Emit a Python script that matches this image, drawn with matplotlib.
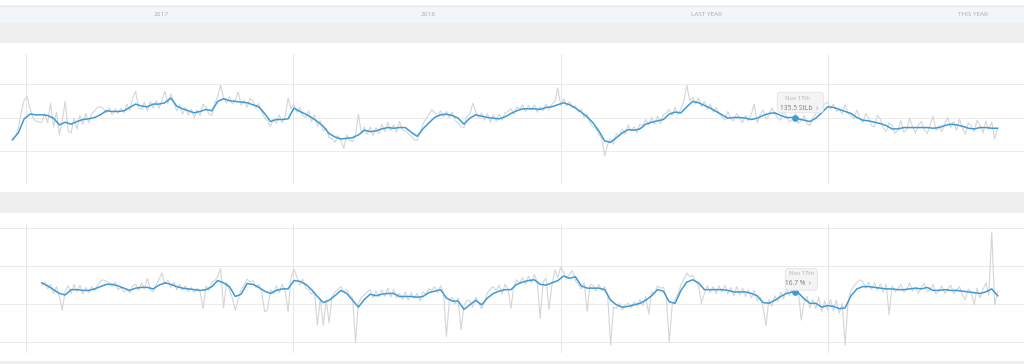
import numpy as np
import pandas as pd
import matplotlib
matplotlib.use('Agg')
import matplotlib.pyplot as plt
import matplotlib.dates as mdates
import matplotlib.transforms as mtransforms
from matplotlib.patches import Rectangle, FancyBboxPatch

plt.rcParams['font.family'] = ['Open Sans', 'DejaVu Sans']

# === Data ===
# weight (lb): raw readings every 4 days, smoothed trend every 8 days
weight_start = '2016-12-14'
weight_raw = [
    131.6, 132.2, 133.4, 135.8, 137.6, 138.1, 136.4, 134.9, 134.5, 134.3,
    134.3, 135.6, 134.2, 137.1, 133.6, 135.8, 132.4, 134.6, 137.4, 133.0,
    132.7, 134.9, 133.3, 135.3, 134.0, 135.6, 134.2, 135.5, 136.0, 136.5,
    136.6, 136.3, 135.7, 136.4, 135.4, 136.3, 135.6, 136.4, 135.7, 137.0,
    136.0, 137.9, 138.9, 136.4, 136.2, 137.3, 136.0, 137.4, 136.4, 137.5,
    136.4, 137.6, 138.9, 137.0, 138.5, 137.4, 136.0, 136.9, 135.5, 136.5,
    135.4, 136.2, 135.0, 136.1, 135.3, 137.0, 136.5, 135.5, 135.3, 137.0,
    138.2, 139.8, 137.9, 137.2, 138.1, 137.0, 137.6, 138.8, 136.8, 137.6,
    136.5, 137.9, 137.5, 136.4, 137.1, 135.8, 135.0, 134.4, 133.7, 134.8,
    134.1, 135.4, 134.2, 135.2, 137.9, 136.3, 136.9, 135.8, 136.5, 135.3,
    135.0, 136.0, 134.4, 135.4, 133.7, 134.5, 133.0, 133.4, 132.0, 131.9,
    131.3, 132.3, 131.6, 130.4, 132.4, 131.6, 131.4, 132.5, 135.5, 132.6,
    133.6, 132.5, 133.6, 132.3, 133.5, 132.6, 134.0, 132.9, 134.3, 133.0,
    133.9, 132.8, 134.4, 133.1, 133.0, 132.6, 132.2, 131.7, 131.6, 132.6,
    134.0, 134.8, 135.4, 136.2, 135.7, 135.2, 136.0, 135.1, 135.9, 135.0,
    135.8, 134.6, 134.2, 133.6, 133.5, 135.2, 135.5, 137.1, 135.9, 135.0,
    135.7, 134.6, 135.6, 134.3, 135.4, 134.4, 135.5, 134.6, 135.7, 135.9,
    136.3, 135.5, 136.6, 136.2, 136.9, 135.9, 136.8, 136.1, 136.9, 135.8,
    136.6, 136.0, 137.0, 136.1, 137.0, 137.4, 139.4, 136.8, 137.8, 136.7,
    137.4, 136.5, 136.8, 135.8, 136.2, 135.0, 135.5, 134.2, 133.6, 133.4,
    132.5, 131.8, 129.3, 131.0, 131.8, 131.0, 132.6, 132.2, 133.3, 132.5,
    133.9, 133.0, 133.6, 132.7, 134.0, 133.8, 134.7, 133.9, 135.0, 134.0,
    135.2, 134.1, 135.4, 135.7, 136.2, 135.3, 136.5, 135.4, 136.3, 137.5,
    139.8, 137.5, 138.0, 137.0, 137.9, 136.6, 137.4, 136.2, 137.0, 135.8,
    136.5, 135.6, 135.1, 134.6, 135.9, 134.8, 134.5, 135.6, 134.9, 134.2,
    135.3, 134.5, 135.5, 137.0, 134.2, 135.4, 136.1, 134.8, 135.2, 136.4,
    135.6, 134.9, 134.6, 135.9, 135.2, 134.3, 134.7, 135.6, 134.1, 134.6,
    135.3, 134.0, 133.8, 135.0, 135.6, 136.4, 136.4, 137.0, 137.3, 136.2,
    137.0, 135.9, 136.2, 135.5, 136.9, 135.6, 135.2, 134.8, 136.1, 134.9,
    134.2, 135.6, 134.9, 133.8, 133.6, 135.3, 134.8, 133.4, 132.9, 134.2,
    133.9, 132.6, 133.1, 134.6, 132.8, 133.2, 134.9, 133.6, 132.7, 133.9,
    134.4, 133.2, 132.6, 133.9, 135.2, 133.1, 133.8, 132.9, 134.1, 135.0,
    133.5, 134.4, 133.1, 134.8, 133.4, 132.5, 134.2, 133.7, 132.9, 134.6,
    133.8, 132.7, 134.5, 133.2, 134.3, 131.8, 133.4,
]
weight_avg = [
    131.7, 132.7, 134.8, 135.5, 135.4, 135.4, 135.3, 134.9, 133.9, 134.3,
    134.0, 134.4, 134.7, 134.8, 135.0, 135.4, 136.0, 135.9, 135.9, 136.0,
    136.5, 137.0, 136.7, 136.6, 137.0, 137.0, 137.2, 137.9, 136.7, 136.3,
    136.0, 135.7, 135.9, 136.2, 136.0, 137.4, 137.8, 137.5, 137.4, 137.3,
    137.2, 136.9, 136.6, 135.6, 134.4, 134.7, 134.7, 134.8, 136.4, 135.9,
    135.5, 135.0, 134.4, 133.7, 132.6, 132.1, 131.8, 131.9, 132.0, 132.4,
    133.1, 132.9, 133.0, 133.3, 133.5, 133.4, 133.5, 133.5, 132.8, 132.2,
    133.3, 134.2, 135.0, 135.4, 135.5, 135.3, 134.9, 134.0, 134.9, 135.4,
    135.2, 135.0, 134.9, 134.8, 135.1, 135.6, 136.0, 136.3, 136.3, 136.3,
    136.2, 136.5, 136.6, 136.9, 137.2, 136.9, 136.4, 135.8, 135.1, 134.2,
    133.0, 131.5, 131.3, 132.0, 132.7, 133.2, 133.1, 133.3, 134.0, 134.3,
    134.5, 134.7, 135.5, 135.8, 135.7, 136.6, 137.4, 137.2, 136.8, 136.4,
    135.9, 135.4, 134.9, 135.0, 135.0, 134.9, 134.7, 134.9, 135.3, 135.6,
    135.7, 135.3, 135.0, 135.0, 134.8, 134.6, 134.4, 134.9, 135.7, 136.6,
    136.5, 136.2, 135.9, 135.6, 135.0, 134.6, 134.5, 134.3, 134.1, 133.8,
    133.3, 133.3, 133.5, 133.5, 133.5, 133.5, 133.5, 133.4, 133.5, 133.8,
    134.0, 133.9, 133.7, 133.4, 133.3, 133.5, 133.5, 133.4, 133.4,
]

# body fat (%): raw readings every 4 days, smoothed trend every 8 days
fat_start = '2017-01-23'
fat_raw = [
    17.5, 17.9, 17.0, 17.6, 16.4, 17.3, 16.0, 14.2, 16.8, 17.4,
    16.4, 17.6, 16.6, 17.5, 16.3, 17.2, 16.5, 17.3, 16.8, 17.5,
    18.0, 18.2, 18.0, 17.8, 17.3, 17.9, 16.9, 17.2, 16.6, 16.9,
    16.5, 17.4, 17.6, 16.8, 17.8, 17.0, 18.4, 16.9, 16.6, 17.6,
    18.3, 19.1, 17.6, 18.2, 17.2, 17.9, 16.9, 17.6, 16.8, 17.4,
    16.6, 17.2, 16.5, 17.1, 16.6, 14.4, 17.4, 16.8, 17.9, 18.1,
    18.6, 19.7, 14.5, 17.9, 16.8, 15.8, 14.2, 15.6, 16.9, 17.5,
    18.3, 17.9, 18.1, 17.2, 17.6, 16.6, 14.0, 14.2, 16.9, 16.3,
    17.4, 16.5, 17.6, 16.7, 14.0, 18.4, 19.6, 18.6, 17.5, 18.3,
    17.1, 16.9, 16.3, 16.6, 12.2, 15.7, 12.2, 15.6, 12.5, 16.0,
    16.6, 16.9, 17.3, 16.6, 16.9, 16.1, 15.9, 10.0, 15.2, 15.9,
    16.2, 16.6, 16.9, 15.8, 16.7, 15.9, 16.9, 16.0, 17.1, 15.9,
    16.9, 15.8, 16.4, 15.6, 16.6, 15.5, 16.5, 15.7, 16.4, 15.4,
    16.6, 16.3, 17.0, 16.8, 17.3, 16.5, 17.4, 16.6, 10.7, 15.5,
    15.9, 15.0, 15.8, 11.6, 14.8, 15.5, 15.4, 14.6, 15.9, 15.1,
    14.4, 15.3, 16.5, 17.0, 17.3, 16.8, 17.5, 16.3, 17.6, 17.0,
    14.4, 17.4, 18.2, 17.8, 18.5, 17.6, 18.7, 17.8, 18.9, 17.9,
    13.1, 17.9, 18.4, 14.3, 17.5, 19.5, 18.5, 19.9, 19.2, 18.3,
    19.0, 19.4, 18.1, 17.6, 17.0, 17.8, 14.0, 17.6, 17.5, 16.7,
    17.6, 16.8, 17.3, 16.2, 9.6, 14.6, 14.4, 15.1, 14.2, 14.9,
    15.1, 14.5, 15.3, 14.7, 15.6, 14.8, 16.0, 13.7, 16.6, 16.4,
    17.4, 17.1, 17.2, 16.0, 10.0, 14.8, 15.6, 16.4, 17.5, 18.3,
    19.1, 18.6, 18.8, 18.0, 17.4, 15.1, 16.4, 17.4, 16.5, 17.3,
    16.4, 17.4, 16.6, 17.5, 16.3, 17.2, 16.1, 17.3, 16.2, 17.1,
    16.0, 16.9, 15.8, 16.8, 15.4, 15.9, 14.6, 12.2, 15.6, 14.7,
    16.1, 15.3, 16.6, 15.7, 17.0, 16.1, 17.2, 16.4, 17.0, 12.9,
    15.2, 16.0, 14.5, 15.6, 14.4, 15.9, 14.0, 15.4, 14.2, 15.6,
    14.1, 15.5, 13.8, 15.1, 9.6, 15.3, 16.8, 17.4, 17.8, 18.2,
    18.0, 17.1, 17.9, 16.9, 17.8, 16.8, 17.7, 16.6, 17.6, 13.6,
    17.4, 16.6, 17.0, 17.6, 16.6, 16.9, 17.8, 16.7, 17.2, 16.4,
    17.3, 17.7, 16.6, 16.9, 17.6, 16.3, 16.8, 17.4, 16.4, 17.0,
    17.5, 16.4, 16.8, 17.3, 16.2, 15.6, 17.0, 16.6, 14.9, 17.1,
    15.8, 16.9, 17.8, 16.2, 24.5, 14.9, 16.6,
]
fat_avg = [
    17.8, 17.4, 16.9, 16.4, 16.2, 16.9, 16.9, 16.8, 16.8, 17.0,
    17.3, 17.6, 17.6, 17.4, 17.1, 16.8, 17.1, 17.2, 17.2, 17.0,
    17.5, 17.8, 17.6, 17.3, 17.1, 17.0, 16.9, 16.8, 16.9, 17.3,
    18.1, 17.8, 17.3, 16.0, 16.3, 17.7, 17.6, 17.2, 16.7, 16.4,
    16.8, 17.0, 17.0, 18.1, 18.0, 17.6, 16.9, 16.0, 15.2, 15.5,
    16.1, 16.8, 16.4, 15.5, 14.6, 15.6, 16.3, 16.1, 16.3, 16.4,
    16.4, 16.0, 16.0, 16.0, 15.9, 16.0, 16.5, 16.7, 16.9, 15.8,
    15.4, 15.4, 14.3, 14.9, 15.5, 14.9, 15.8, 16.4, 16.7, 16.9,
    16.9, 17.6, 17.9, 18.1, 18.2, 17.6, 17.5, 17.8, 18.1, 18.7,
    18.4, 18.6, 17.4, 17.1, 17.1, 17.1, 16.9, 15.5, 14.9, 14.6,
    14.7, 14.9, 15.1, 15.5, 16.1, 16.9, 16.7, 15.3, 15.1, 16.8,
    17.9, 18.2, 17.8, 16.9, 16.9, 16.9, 16.9, 16.8, 16.6, 16.6,
    16.6, 16.4, 16.1, 15.2, 15.1, 15.5, 16.0, 16.4, 16.6, 16.5,
    15.7, 15.1, 15.1, 14.6, 14.8, 14.7, 14.4, 14.5, 16.1, 17.0,
    17.3, 17.3, 17.2, 17.1, 17.0, 17.0, 16.9, 16.9, 17.0, 17.1,
    17.0, 17.2, 16.8, 16.8, 16.9, 16.8, 16.8, 16.7, 16.6, 16.5,
    16.4, 16.6, 17.0, 16.1,
]

year_starts = ['2017-01-01', '2018-01-01', '2019-01-01', '2020-01-01']
header_labels = ['2017', '2018', 'LAST YEAR', 'THIS YEAR']
header_dates = ['2017-07-05', '2018-07-04', '2019-07-19', '2020-07-17']
tip_date = '2019-11-17'

BLUE = '#3d9ad8'
GRAY = '#d5d5d5'
BAND = '#efefef'
GRID = '#ebebeb'
H = 364.0


def dnum(start, n, step):
    return mdates.date2num(pd.date_range(start, periods=n, freq=step).values)


fig = plt.figure(figsize=(10.24, 3.64), dpi=100)
fig.patch.set_facecolor('white')


def band(y_top, y_bot, color):
    fig.add_artist(Rectangle((0, 1 - y_bot / H), 1, (y_bot - y_top) / H,
                             transform=fig.transFigure, facecolor=color,
                             edgecolor='none', zorder=0))


# header strip and grey separators
band(5.5, 23, '#f3f6f9')
band(5.5, 6.5, '#e2e7ed')
band(22.5, 23.5, '#e4e8ec')
band(23.5, 43, BAND)
band(192, 213, BAND)
band(361, 364, BAND)

x_lo = mdates.date2num(np.datetime64('2016-11-27'))
x_hi = mdates.date2num(np.datetime64('2020-09-24'))

ax1 = fig.add_axes([0, 1 - 192 / H, 1, 149 / H])
ax2 = fig.add_axes([0, 1 - 361 / H, 1, 148 / H])

panels = [
    (ax1, weight_start, weight_raw, weight_avg, (123.9, 146.1), [140, 135, 130]),
    (ax2, fat_start, fat_raw, fat_avg, (7.5, 27.0), [25, 20, 15, 10]),
]

for ax, start, raw, avg, ylim, hlines in panels:
    xr = dnum(start, len(raw), '4D')
    xa = dnum(start, len(avg), '8D')
    for v in hlines:
        ax.axhline(v, color=GRID, lw=0.7, zorder=1)
    for d in year_starts:
        ax.axvline(mdates.date2num(np.datetime64(d)), ymin=0.06, ymax=0.925,
                   color='#e6e6e6', lw=0.7, zorder=1)
    ax.plot(xr, raw, color=GRAY, lw=0.8, zorder=2)
    ax.plot(xa, avg, color=BLUE, lw=1.1, zorder=3)
    ax.set_xlim(x_lo, x_hi)
    ax.set_ylim(*ylim)
    ax.set_facecolor('white')
    ax.axis('off')

# year header labels
trans = mtransforms.blended_transform_factory(ax1.transData, fig.transFigure)
for lab, d in zip(header_labels, header_dates):
    fig.text(mdates.date2num(np.datetime64(d)), 1 - 14.5 / H, lab, transform=trans,
             ha='center', va='center', fontsize=4.6, color='#a9a9a9')


# hover tooltips on Nov 17th
def tooltip(ax, start, avg, label, box, off1, off2):
    xa = dnum(start, len(avg), '8D')
    x = mdates.date2num(np.datetime64(tip_date))
    y = np.interp(x, xa, avg)
    ax.plot([x], [y], 'o', ms=3.8, color=BLUE, zorder=6)
    px, py = ax.transData.transform((x, y))
    bx0, bx1, by0, by1 = box
    ax.add_patch(FancyBboxPatch((px + bx0, py + by0), bx1 - bx0, by1 - by0,
                                boxstyle='round,pad=0,rounding_size=3',
                                facecolor='#f4f4f4', edgecolor='#e2e2e2', lw=0.6,
                                alpha=0.95, transform=mtransforms.IdentityTransform(),
                                zorder=7))
    ax.annotate('Nov 17th', xy=(x, y), xytext=off1, textcoords='offset pixels',
                ha='center', va='center', fontsize=4.2, color='#b2b2b2', zorder=8)
    ax.annotate(label, xy=(x, y), xytext=off2, textcoords='offset pixels',
                ha='center', va='center', fontsize=4.8, color='#7a7a7a', zorder=8)


tooltip(ax1, weight_start, weight_avg, '135.5 StLb  \u203a', (-18, 28, 5.5, 26), (2, 19.5), (4, 9.5))
tooltip(ax2, fat_start, fat_avg, '16.7 %  \u203a', (-10, 22, 2, 24), (6, 19), (3, 9))

fig.savefig('out.png', dpi=100)
